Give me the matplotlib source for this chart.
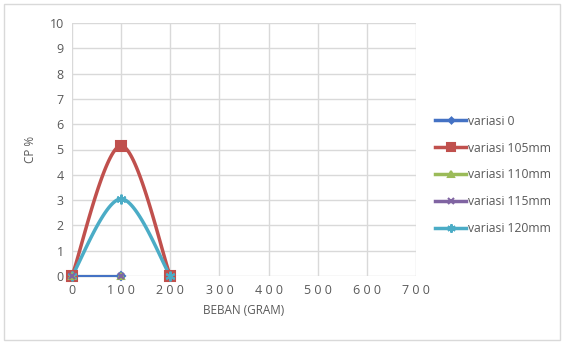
import numpy as np
import matplotlib
matplotlib.use("Agg")
import matplotlib.pyplot as plt
from matplotlib.patches import Rectangle

# Data
beban = [0, 100, 200]
series_names = ["variasi 0", "variasi 105mm", "variasi 110mm", "variasi 115mm", "variasi 120mm"]
cp_v0 = [0, 0]
cp_v105 = [0, 5.15, 0]
cp_v110 = [0, 0]
cp_v115 = [0, 0]
cp_v120 = [0, 3.05, 0]
x_ticks = [0, 100, 200, 300, 400, 500, 600, 700]
y_ticks = list(range(0, 11))

colors = ["#4472C4", "#C0504D", "#9BBB59", "#8064A2", "#4BACC6"]
markers = ["D", "s", "^", "x", (6, 2, 0)]
msizes = [4, 7, 5, 5, 7]
lwidths = [1.5, 2.5, 1.5, 1.5, 2.5]


def smooth(xs, ys, n=40):
    """Bezier smoothing of a polyline (spreadsheet-style smoothed line)."""
    pts = np.column_stack([xs, ys]).astype(float)
    if len(pts) < 3:
        return pts[:, 0], pts[:, 1]
    out = []
    m = len(pts)
    for i in range(m - 1):
        p0 = pts[max(i - 1, 0)]
        p1 = pts[i]
        p2 = pts[i + 1]
        p3 = pts[min(i + 2, m - 1)]
        c1 = p1 + (p2 - p0) / 6.0
        c2 = p2 - (p3 - p1) / 6.0
        t = np.linspace(0, 1, n)[:, None]
        seg = ((1 - t) ** 3) * p1 + 3 * ((1 - t) ** 2) * t * c1 + 3 * (1 - t) * t ** 2 * c2 + t ** 3 * p2
        out.append(seg if i == 0 else seg[1:])
    out = np.vstack(out)
    return out[:, 0], out[:, 1]


fig = plt.figure(figsize=(5.65, 3.43), dpi=100)
fig.patch.set_facecolor("white")
fig.patches.append(Rectangle((4 / 565, 3 / 343), 556 / 565, 336 / 343, transform=fig.transFigure,
                             fill=False, edgecolor="#d9d9d9", linewidth=1.0))

ax = fig.add_axes([72 / 565, 1 - 276 / 343, 344 / 565, 253 / 343])
ax.set_xlim(0, 700)
ax.set_ylim(0, 10)
ax.set_xticks(x_ticks)
ax.set_yticks(y_ticks)
ax.grid(True, color="#d9d9d9", linewidth=1.0)
ax.set_axisbelow(True)
for s in ax.spines.values():
    s.set_visible(False)
ax.tick_params(length=0, colors="#595959", labelsize=9, pad=6)
ax.set_xticklabels([" ".join(str(v)) for v in x_ticks], fontfamily="Open Sans", fontsize=9)
for lab in ax.get_yticklabels():
    lab.set_fontfamily("Open Sans")
    lab.set_fontsize(9)

ys_all = [cp_v0, cp_v105, cp_v110, cp_v115, cp_v120]
line_order = [2, 3, 1, 4, 0]
marker_order = [0, 1, 4, 2, 3]
handles = {}
for k, i in enumerate(line_order):
    ys = ys_all[i]
    xs = beban[:len(ys)]
    sx, sy = smooth(xs, ys)
    ax.plot(sx, sy, color=colors[i], linewidth=lwidths[i], clip_on=False, zorder=3 + 0.01 * k)
for k, i in enumerate(marker_order):
    ys = ys_all[i]
    xs = beban[:len(ys)]
    ax.plot(xs, ys, linestyle="none", marker=markers[i], markersize=msizes[i], color=colors[i],
            markeredgecolor=colors[i], markeredgewidth=1.5, clip_on=False, zorder=4 + 0.01 * k)
for i in range(5):
    handles[i] = plt.Line2D([], [], color=colors[i], linewidth=2.5, marker=markers[i],
                            markersize=msizes[i] - 1, markeredgewidth=1.5, markeredgecolor=colors[i])

ax.set_xlabel("BEBAN (GRAM)", fontfamily="Open Sans", fontsize=8.5, color="#595959", labelpad=5)
ax.set_ylabel("CP %", fontfamily="Open Sans", fontsize=8.5, color="#595959", labelpad=9)

leg = fig.legend([handles[i] for i in range(5)], series_names, loc="center left",
                 bbox_to_anchor=(424 / 565, 1 - 175 / 343), frameon=False,
                 prop={"family": "Open Sans", "size": 8.7}, labelcolor="#595959",
                 handlelength=2.6, handletextpad=0.1, labelspacing=1.15)

fig.savefig("out.png", dpi=100, facecolor="white")
